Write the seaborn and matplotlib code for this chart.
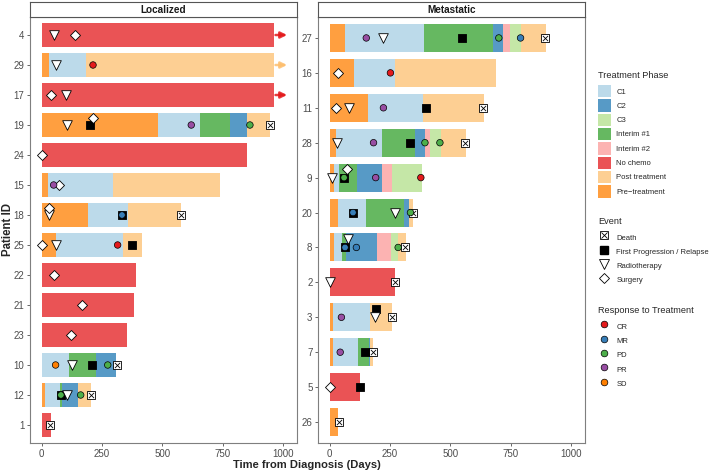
import matplotlib
matplotlib.use("Agg")
import matplotlib.pyplot as plt
from matplotlib.patches import Patch
from matplotlib.lines import Line2D
import seaborn as sns
import pandas as pd

sns.set_theme(style="white")
plt.rcParams["font.family"] = ["Liberation Sans", "DejaVu Sans"]

# ---- data ----
phases = ["C1", "C2", "C3", "Interim #1", "Interim #2", "No chemo",
          "Post treatment", "Pre-treatment"]
phase_labels = ["C1", "C2", "C3", "Interim #1", "Interim #2", "No chemo",
                "Post treatment", "Pre\u2212treatment"]
phase_colors = dict(zip(phases, sns.color_palette("Paired", 8).as_hex()))

resp_names = ["CR", "MR", "PD", "PR", "SD"]
resp_colors = dict(zip(resp_names, ["#e41a1c", "#377eb8", "#4daf4a", "#984ea3", "#ff7f00"]))

loc_ids = ["4", "29", "17", "19", "24", "15", "18", "25", "22", "21", "23", "10", "12", "1"]
met_ids = ["27", "16", "11", "28", "9", "20", "8", "2", "3", "7", "5", "26"]

# phase segments: patient, phase, end (start = previous end)
loc_segments = [
    ("4", "No chemo", 961),
    ("29", "Pre-treatment", 32), ("29", "C1", 184), ("29", "Post treatment", 961),
    ("17", "No chemo", 961),
    ("19", "Pre-treatment", 483), ("19", "C1", 657), ("19", "Interim #1", 781),
    ("19", "C2", 852), ("19", "Post treatment", 945),
    ("24", "No chemo", 849),
    ("15", "Pre-treatment", 25), ("15", "C1", 294), ("15", "Post treatment", 740),
    ("18", "Pre-treatment", 192), ("18", "C1", 358), ("18", "Post treatment", 578),
    ("25", "Pre-treatment", 58), ("25", "C1", 339), ("25", "Post treatment", 417),
    ("22", "No chemo", 392),
    ("21", "No chemo", 381),
    ("23", "No chemo", 354),
    ("10", "Pre-treatment", 3), ("10", "C1", 115), ("10", "Interim #1", 225), ("10", "C2", 310),
    ("12", "Pre-treatment", 16), ("12", "C1", 78), ("12", "Interim #1", 84),
    ("12", "C2", 149), ("12", "Post treatment", 203),
    ("1", "No chemo", 37),
]
met_segments = [
    ("27", "Pre-treatment", 65), ("27", "C1", 393), ("27", "Interim #1", 676), ("27", "C2", 717),
    ("27", "Interim #2", 747), ("27", "C3", 792), ("27", "Post treatment", 896),
    ("16", "Pre-treatment", 103), ("16", "C1", 272), ("16", "Post treatment", 688),
    ("11", "Pre-treatment", 161), ("11", "C1", 388), ("11", "Post treatment", 639),
    ("28", "Pre-treatment", 28), ("28", "C1", 219), ("28", "Interim #1", 352), ("28", "C2", 396),
    ("28", "Interim #2", 418), ("28", "C3", 460), ("28", "Post treatment", 564),
    ("9", "Pre-treatment", 17), ("9", "C1", 37), ("9", "Interim #1", 115), ("9", "C2", 219),
    ("9", "Interim #2", 260), ("9", "C3", 381),
    ("20", "Pre-treatment", 35), ("20", "C1", 152), ("20", "Interim #1", 308), ("20", "C2", 330),
    ("20", "Post treatment", 346),
    ("8", "Pre-treatment", 20), ("8", "C1", 53), ("8", "Interim #1", 68), ("8", "C2", 198),
    ("8", "Interim #2", 256), ("8", "C3", 284), ("8", "Post treatment", 315),
    ("2", "No chemo", 272),
    ("3", "Pre-treatment", 15), ("3", "C1", 169), ("3", "Post treatment", 259),
    ("7", "Pre-treatment", 15), ("7", "C1", 118), ("7", "Interim #1", 164), ("7", "C2", 169),
    ("7", "Post treatment", 181),
    ("5", "No chemo", 127),
    ("26", "Pre-treatment", 36),
]

# events: patient, event, day
loc_events = [
    ("4", "Radiotherapy", 52), ("4", "Surgery", 139),
    ("29", "Radiotherapy", 59),
    ("17", "Surgery", 37), ("17", "Radiotherapy", 101),
    ("19", "Radiotherapy", 106), ("19", "First Progression / Relapse", 200),
    ("19", "Surgery", 213), ("19", "Death", 945),
    ("24", "Surgery", 0),
    ("15", "Surgery", 73),
    ("18", "Radiotherapy", 29), ("18", "Surgery", 29),
    ("18", "First Progression / Relapse", 333), ("18", "Death", 578),
    ("25", "Surgery", 0), ("25", "Radiotherapy", 58), ("25", "First Progression / Relapse", 376),
    ("22", "Surgery", 50), ("21", "Surgery", 169), ("23", "Surgery", 122),
    ("10", "Radiotherapy", 124), ("10", "First Progression / Relapse", 210), ("10", "Death", 311),
    ("12", "First Progression / Relapse", 80), ("12", "Radiotherapy", 104), ("12", "Death", 203),
    ("1", "Death", 36),
]
met_events = [
    ("27", "Radiotherapy", 220), ("27", "First Progression / Relapse", 550), ("27", "Death", 893),
    ("16", "Surgery", 36),
    ("11", "Surgery", 28), ("11", "Radiotherapy", 82),
    ("11", "First Progression / Relapse", 398), ("11", "Death", 637),
    ("28", "Radiotherapy", 31), ("28", "First Progression / Relapse", 335), ("28", "Death", 562),
    ("9", "Radiotherapy", 8), ("9", "First Progression / Relapse", 60), ("9", "Surgery", 73),
    ("20", "First Progression / Relapse", 97), ("20", "Radiotherapy", 273), ("20", "Death", 346),
    ("8", "First Progression / Relapse", 64), ("8", "Radiotherapy", 76), ("8", "Death", 313),
    ("2", "Radiotherapy", 0), ("2", "Death", 270),
    ("3", "First Progression / Relapse", 193), ("3", "Radiotherapy", 190), ("3", "Death", 259),
    ("7", "First Progression / Relapse", 146), ("7", "Death", 180),
    ("5", "Surgery", 0), ("5", "First Progression / Relapse", 127),
    ("26", "Death", 37),
]
# events nudged upward where they overlap another marker
nudged = {("19", "Surgery"), ("18", "Surgery"), ("9", "Surgery"),
          ("8", "Radiotherapy"), ("3", "First Progression / Relapse")}

# responses: patient, response, day
loc_responses = [
    ("29", "CR", 213), ("19", "PR", 620), ("19", "PD", 863), ("15", "PR", 50),
    ("18", "MR", 333), ("25", "CR", 315), ("10", "SD", 58), ("10", "PD", 274),
    ("12", "PD", 80), ("12", "PD", 162),
]
met_responses = [
    ("27", "PR", 152), ("27", "PD", 701), ("27", "MR", 791), ("16", "CR", 252),
    ("11", "PR", 223), ("28", "PR", 182), ("28", "PD", 395), ("28", "PD", 457),
    ("9", "PD", 60), ("9", "PR", 191), ("9", "CR", 378), ("20", "MR", 97),
    ("20", "PD", 335), ("8", "MR", 64), ("8", "MR", 111), ("8", "PD", 284),
    ("3", "PR", 49), ("7", "PR", 44),
]
ongoing_loc = ["4", "29", "17"]

event_style = {
    "Death": dict(marker="s", s=26, facecolor="white"),
    "First Progression / Relapse": dict(marker="s", s=28, facecolor="black"),
    "Radiotherapy": dict(marker="v", s=48, facecolor="white"),
    "Surgery": dict(marker="D", s=26, facecolor="white"),
}

W, H = 709, 473
fig = plt.figure(figsize=(W / 100, H / 100), dpi=100)


def draw_panel(x0, ids, segments, events, responses, title, ongoing):
    ax = fig.add_axes([x0 / W, 1 - 443 / H, 267 / W, 426 / H])
    pos = {p: i for i, p in enumerate(ids)}
    seg = pd.DataFrame(segments, columns=["patient", "phase", "end"])
    seg["start"] = seg.groupby("patient")["end"].shift(1).fillna(0)
    ax.barh(seg["patient"].map(pos), seg["end"] - seg["start"], left=seg["start"],
            height=0.8, color=seg["phase"].map(phase_colors), alpha=0.75, linewidth=0)

    ev = pd.DataFrame(events, columns=["patient", "event", "day"])
    ev["y"] = ev["patient"].map(pos) - [0.25 if (p, e) in nudged else 0
                                        for p, e in zip(ev["patient"], ev["event"])]
    for name, st in event_style.items():
        d = ev[ev["event"] == name]
        ax.scatter(d["day"], d["y"], marker=st["marker"], s=st["s"], c=st["facecolor"],
                   edgecolors="black", linewidths=0.6, zorder=3)
        if name == "Death":
            ax.scatter(d["day"], d["y"], marker="x", s=14, c="black", linewidths=0.6, zorder=4)

    rs = pd.DataFrame(responses, columns=["patient", "resp", "day"])
    ax.scatter(rs["day"], rs["patient"].map(pos), s=22, c=rs["resp"].map(resp_colors),
               edgecolors="black", linewidths=0.5, zorder=5)

    for p in ongoing:
        last = seg[seg["patient"] == p].iloc[-1]
        ax.annotate("", xy=(last["end"] + 56, pos[p]), xytext=(last["end"] + 8, pos[p]),
                    arrowprops=dict(arrowstyle="-|>", color=phase_colors[last["phase"]],
                                    lw=1.8, mutation_scale=9, alpha=0.85,
                                    shrinkA=0, shrinkB=0))

    ax.set_xlim(-48, 1058)
    ax.set_ylim(len(ids) - 0.4, -0.6)
    ax.set_yticks(range(len(ids)))
    ax.set_yticklabels(ids)
    ax.set_xticks([0, 250, 500, 750, 1000])
    ax.tick_params(axis="both", labelsize=7, colors="#4d4d4d", length=2.5, width=0.6,
                   left=True, bottom=True, pad=1.5)
    for s in ax.spines.values():
        s.set_color("#7f7f7f")
        s.set_linewidth(0.8)

    strip = fig.add_axes([x0 / W, 1 - 17 / H, 267 / W, 15 / H])
    strip.set_xticks([])
    strip.set_yticks([])
    for s in strip.spines.values():
        s.set_color("#555555")
        s.set_linewidth(0.8)
    strip.text(0.5, 0.45, title, ha="center", va="center", fontsize=7.2,
               fontweight="bold", color="#1a1a1a", transform=strip.transAxes)
    return ax


draw_panel(30, loc_ids, loc_segments, loc_events, loc_responses, "Localized", ongoing_loc)
draw_panel(318, met_ids, met_segments, met_events, met_responses, "Metastatic", [])

fig.text(307 / W, 1 - 465 / H, "Time from Diagnosis (Days)", ha="center", va="center",
         fontsize=8, fontweight="bold")
fig.text(8 / W, 1 - 230 / H, "Patient ID", ha="center", va="center", rotation=90,
         fontsize=8.3, fontweight="bold")

# ---- legends ----
leg_kw = dict(frameon=False, fontsize=5.5, title_fontsize=6.6, alignment="left",
              borderaxespad=0, borderpad=0, handlelength=1.65, handleheight=2.14,
              labelspacing=0.24, handletextpad=0.75)
h1 = [Patch(facecolor=phase_colors[p], alpha=0.75, edgecolor="none") for p in phases]
l1 = fig.legend(h1, phase_labels, title="Treatment Phase", loc="upper left",
                bbox_to_anchor=(598 / W, 1 - 71 / H), **leg_kw)

death_h = (Line2D([], [], marker="s", ls="", ms=5.6, mfc="white", mec="black", mew=0.6),
           Line2D([], [], marker="x", ls="", ms=3.9, mec="black", mew=0.6))
h2 = [death_h,
      Line2D([], [], marker="s", ls="", ms=5.5, mfc="black", mec="black"),
      Line2D([], [], marker="v", ls="", ms=7, mfc="white", mec="black", mew=0.6),
      Line2D([], [], marker="D", ls="", ms=5.2, mfc="white", mec="black", mew=0.6)]
l2 = fig.legend(h2, ["Death", "First Progression / Relapse", "Radiotherapy", "Surgery"],
                title="Event", loc="upper left", bbox_to_anchor=(598 / W, 1 - 217 / H), **leg_kw)

h3 = [Line2D([], [], marker="o", ls="", ms=4.8, mfc=resp_colors[r], mec="black", mew=0.5)
      for r in resp_names]
l3 = fig.legend(h3, resp_names, title="Response to Treatment", loc="upper left",
                bbox_to_anchor=(598 / W, 1 - 306 / H), **leg_kw)

# a bit more room between each legend title and its keys
for leg in (l1, l2, l3):
    leg._legend_box.sep = 3.5

fig.savefig("out.png", dpi=100)
